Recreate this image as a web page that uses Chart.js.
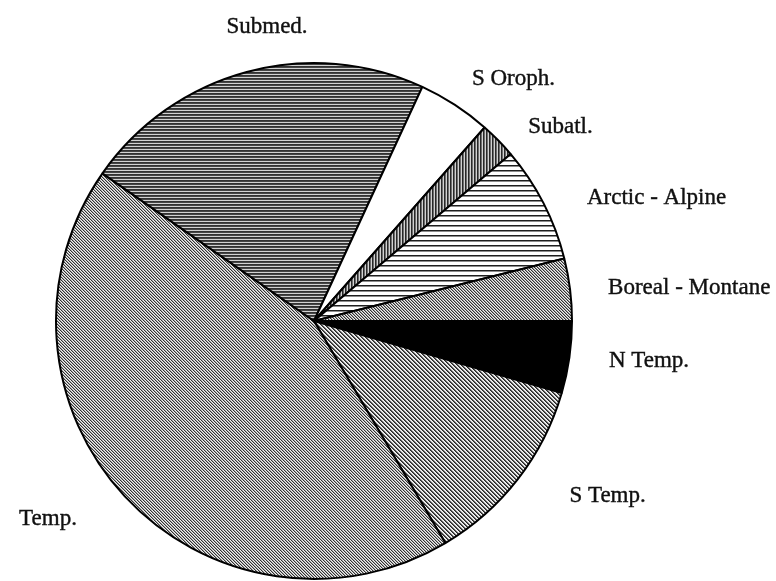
<!DOCTYPE html>
<html>
<head>
<meta charset="utf-8">
<script src="https://cdn.jsdelivr.net/npm/chart.js@4/dist/chart.umd.min.js"></script>
<style>
  html, body { margin: 0; padding: 0; background: #ffffff; }
  #wrap { width: 776px; height: 581px; position: relative; }
</style>
</head>
<body>
<div id="wrap"><canvas id="c" width="776" height="581"></canvas></div>
<script>
// Data (percent of flora), ordered clockwise from 3 o'clock
const categories = ["N Temp.", "S Temp.", "Temp.", "Submed.", "S Oroph.", "Subatl.", "Arctic - Alpine", "Boreal - Montane"];
const shares = [4.5, 12.0, 43.2, 22.2, 4.6, 2.3, 7.3, 3.9];

// ---- hatch patterns ----
function tile(w, h, fn) {
  const c = document.createElement('canvas');
  c.width = w; c.height = h;
  const g = c.getContext('2d');
  const img = g.createImageData(w, h);
  for (let y = 0; y < h; y++) for (let x = 0; x < w; x++) {
    const v = fn(x, y);
    const i = (y * w + x) * 4;
    img.data[i] = img.data[i + 1] = img.data[i + 2] = v; img.data[i + 3] = 255;
  }
  g.putImageData(img, 0, 0);
  return g.createPattern(c, 'repeat');
}
function diag(p, shades) { // "\" direction lines
  return tile(p, p, (x, y) => shades[(((x - y) % p) + p) % p]);
}
function horiz(p, shades) { return tile(1, p, (x, y) => shades[y]); }
function vert(p, shades) { return tile(p, 1, (x, y) => shades[x]); }

const fills = {
  "N Temp.": '#000000',
  "S Temp.": diag(4, [40, 90, 220, 245]),
  "Temp.": diag(3, [50, 170, 240]),
  "Submed.": horiz(3, [50, 70, 210]),
  "S Oroph.": '#ffffff',
  "Subatl.": vert(3, [40, 110, 210]),
  "Arctic - Alpine": horiz(5, [30, 140, 255, 255, 255]),
  "Boreal - Montane": diag(3, [50, 160, 240])
};

// label placement relative to pie centre, in units of the radius
const labelLayout = {
  "Submed.": { fx: -0.182, fy: -1.116, align: 'center' },
  "S Oroph.": { fx: 0.612, fy: -0.915, align: 'left' },
  "Subatl.": { fx: 0.83, fy: -0.729, align: 'left' },
  "Arctic - Alpine": { fx: 1.058, fy: -0.453, align: 'left' },
  "Boreal - Montane": { fx: 1.14, fy: -0.105, align: 'left' },
  "N Temp.": { fx: 1.143, fy: 0.178, align: 'left' },
  "S Temp.": { fx: 0.99, fy: 0.702, align: 'left' },
  "Temp.": { fx: -1.143, fy: 0.791, align: 'left' }
};

const labelPlugin = {
  id: 'sliceLabels',
  afterDatasetsDraw(chart) {
    const arc = chart.getDatasetMeta(0).data[0];
    if (!arc) return;
    const { x: cx, y: cy, outerRadius: R } = arc.getProps(['x', 'y', 'outerRadius'], true);
    const ctx = chart.ctx;
    ctx.save();
    ctx.font = '23px "Liberation Serif", "Times New Roman", serif';
    ctx.fillStyle = '#111111';
    ctx.strokeStyle = '#111111';
    ctx.lineWidth = 0.4;
    ctx.textBaseline = 'alphabetic';
    chart.data.labels.forEach(lab => {
      const L = labelLayout[lab];
      ctx.textAlign = L.align;
      ctx.fillText(lab, cx + L.fx * R, cy + L.fy * R);
      ctx.strokeText(lab, cx + L.fx * R, cy + L.fy * R);
    });
    ctx.restore();
  }
};

new Chart(document.getElementById('c'), {
  type: 'pie',
  data: {
    labels: categories,
    datasets: [{
      data: shares,
      backgroundColor: categories.map(k => fills[k]),
      borderColor: '#000000',
      borderWidth: 2,
      borderAlign: 'center'
    }]
  },
  options: {
    responsive: false,
    animation: false,
    rotation: 90,
    radius: 258,
    layout: { padding: { left: 0, right: 148, top: 61, bottom: 0 } },
    plugins: { legend: { display: false }, tooltip: { enabled: false } },
    events: []
  },
  plugins: [labelPlugin]
});
</script>
</body>
</html>
